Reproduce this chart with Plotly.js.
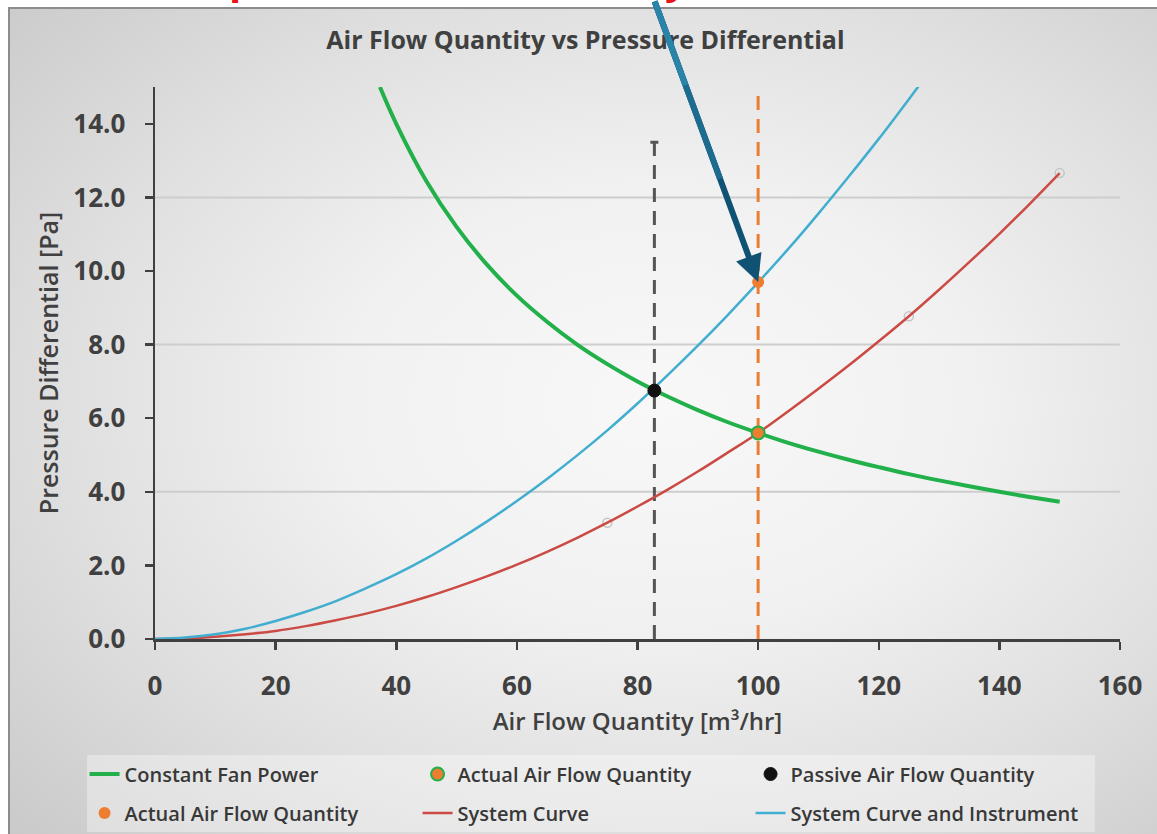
<!DOCTYPE html>
<html>
<head>
<meta charset="utf-8">
<script src="https://cdn.plot.ly/plotly-3.0.1.min.js"></script>
<style>
  html, body { margin: 0; padding: 0; width: 1157px; height: 834px; overflow: hidden; background: #ffffff; }
  #bg { position: absolute; left: 8px; top: 7px; width: 1200px; height: 900px;
        border-left: 2px solid #8c8c8c; border-top: 2px solid #8c8c8c;
        background: radial-gradient(ellipse 75% 70% at 54% 44%, #f8f8f8 0%, #f1f1f1 35%, #e0e0e0 65%, #c9c9c9 100%); }
  #chart { position: absolute; left: 0; top: 0; width: 1157px; height: 834px; }
</style>
</head>
<body>
<div id="bg"></div>
<div id="chart"></div>
<script>
// ---- data ----
const xFan = [37.3, 40, 45, 50, 55, 60, 65, 70, 75, 80, 85, 90, 95, 100, 105, 110, 115, 120, 125, 130, 135, 140, 145, 150];
const yFan = [15.0, 14.0, 12.44, 11.2, 10.18, 9.33, 8.62, 8.0, 7.47, 7.0, 6.59, 6.22, 5.89, 5.6, 5.33, 5.09, 4.87, 4.67, 4.48, 4.31, 4.15, 4.0, 3.86, 3.73];

const xSys = [0, 5, 10, 15, 20, 25, 30, 35, 40, 45, 50, 55, 60, 65, 70, 75, 80, 85, 90, 95, 100, 105, 110, 115, 120, 125, 130, 135, 140, 145, 150];
const ySys = [0, 0.01, 0.06, 0.13, 0.22, 0.35, 0.51, 0.69, 0.90, 1.14, 1.41, 1.70, 2.02, 2.37, 2.75, 3.16, 3.60, 4.06, 4.55, 5.07, 5.60, 6.19, 6.80, 7.43, 8.09, 8.77, 9.49, 10.24, 11.01, 11.82, 12.66];

const xInst = [0, 5, 10, 15, 20, 25, 30, 35, 40, 45, 50, 55, 60, 65, 70, 75, 80, 85, 90, 95, 100, 105, 110, 115, 120, 125, 130];
const yInst = [0, 0.04, 0.13, 0.28, 0.49, 0.74, 1.03, 1.38, 1.76, 2.19, 2.67, 3.19, 3.75, 4.35, 4.99, 5.67, 6.40, 7.17, 7.97, 8.81, 9.69, 10.60, 11.56, 12.56, 13.59, 14.67, 15.78];

const sysMarkX = [75, 125, 150];
const sysMarkY = [3.16, 8.77, 12.66];

const actualX = [100], actualY = [5.6];
const passiveX = [82.8], passiveY = [6.75];
const actual2X = [100], actual2Y = [9.7];

const passiveLineX = [82.8, 82.8], passiveLineY = [0, 13.5];
const actualLineX = [100, 100], actualLineY = [0, 15];

const gridY = [4, 8, 12];
const yTicks = [0, 2, 4, 6, 8, 10, 12, 14];
const xTicks = [0, 20, 40, 60, 80, 100, 120, 140, 160];

const titleText = "Air Flow Quantity vs Pressure Differential";
const xTitle = "Air Flow Quantity [m³/hr]";
const yTitle = "Pressure Differential [Pa]";

// ---- styles ----
const FONT = "Open Sans, Noto Sans, sans-serif";
const TXT = "#404040";
const GREEN = "#22b04b", RED = "#cc4a44", CYAN = "#41aecf", ORANGE = "#ed7d31";

const traces = [
  { x: passiveLineX, y: passiveLineY, mode: "lines", showlegend: false, hoverinfo: "skip",
    line: { color: "#555555", width: 3, dash: "14px,9px" } },
  { x: [passiveLineX[1]], y: [passiveLineY[1]], mode: "markers", showlegend: false, hoverinfo: "skip",
    marker: { size: 1, opacity: 0 },
    error_y: { type: "data", array: [0], arrayminus: [0], width: 4, thickness: 3, color: "#555555" } },
  { x: actualLineX, y: actualLineY, mode: "lines", showlegend: false, hoverinfo: "skip",
    line: { color: ORANGE, width: 3, dash: "14px,9px" } },
  { x: sysMarkX, y: sysMarkY, mode: "markers", showlegend: false, hoverinfo: "skip",
    marker: { symbol: "circle-open", size: 9, color: "#c4c4c4", line: { width: 1.5 } } },

  // legend row 1
  { name: "Constant Fan Power", x: xFan, y: yFan, mode: "lines", legend: "legend", legendrank: 1,
    line: { color: GREEN, width: 4, shape: "spline" } },
  { name: "Actual Air Flow Quantity", x: actualX, y: actualY, mode: "markers", legend: "legend", legendrank: 2,
    marker: { color: ORANGE, size: 13, line: { color: GREEN, width: 2 } } },
  { name: "Passive Air Flow Quantity", x: passiveX, y: passiveY, mode: "markers", legend: "legend", legendrank: 3,
    marker: { color: "#111111", size: 13, line: { color: "#111111", width: 1 } } },
  // legend row 2
  { name: "Actual Air Flow Quantity", x: actual2X, y: actual2Y, mode: "markers", legend: "legend2", legendrank: 1,
    marker: { color: ORANGE, size: 12 } },
  { name: "System Curve", x: xSys, y: ySys, mode: "lines", legend: "legend2", legendrank: 2,
    line: { color: RED, width: 2.5, shape: "spline" } },
  { name: "System Curve and Instrument", x: xInst, y: yInst, mode: "lines", legend: "legend2", legendrank: 3,
    line: { color: CYAN, width: 2.5, shape: "spline" } }
];

// draw markers above the curves
const order = [0, 1, 2, 3, 4, 8, 9, 5, 6, 7];
const data = order.map(i => traces[i]);

const legendCommon = {
  orientation: "h", xref: "paper", yref: "paper", xanchor: "left", yanchor: "middle",
  x: -0.073, entrywidth: 288, entrywidthmode: "pixels",
  bgcolor: "rgba(0,0,0,0)", borderwidth: 0,
  font: { family: FONT, size: 20, color: "#383838", weight: 600 },
  traceorder: "normal"
};

const shapes = gridY.map(v => ({
  type: "line", xref: "paper", x0: 0, x1: 1, yref: "y", y0: v, y1: v, layer: "below",
  line: { color: "#cdcdcd", width: 2 }
}));
shapes.push({
  type: "rect", xref: "paper", yref: "paper", x0: -0.0705, x1: 0.974, y0: -0.3496, y1: -0.2101,
  layer: "below", fillcolor: "rgba(255,255,255,0.35)", line: { width: 0 }
});

const annotations = [
  { x: 100, y: 9.7, xref: "x", yref: "y", ax: -104, ay: -295, axref: "pixel", ayref: "pixel",
    showarrow: true, arrowhead: 2, arrowsize: 0.9, arrowwidth: 6, arrowcolor: "#0f5274", standoff: 0, text: "" },
  { x: 100, y: 9.7, xref: "x", yref: "y", ax: -104, ay: -295, axref: "pixel", ayref: "pixel",
    showarrow: true, arrowhead: 0, arrowwidth: 6, arrowcolor: "#1d6b8f", standoff: 110, text: "" },
  { x: 100, y: 9.7, xref: "x", yref: "y", ax: -104, ay: -295, axref: "pixel", ayref: "pixel",
    showarrow: true, arrowhead: 0, arrowwidth: 6, arrowcolor: "#2a84a8", standoff: 210, text: "" },
  { text: "p", xref: "paper", yref: "paper", x: (241 - 155) / 965, y: (639 - 8) / 552,
    xanchor: "center", yanchor: "bottom", showarrow: false,
    font: { family: FONT, size: 40, color: "#e8141b", weight: 700 } },
  { text: "y", xref: "paper", yref: "paper", x: (676 - 155) / 965, y: (639 - 8) / 552,
    xanchor: "center", yanchor: "bottom", showarrow: false,
    font: { family: FONT, size: 40, color: "#e8141b", weight: 700 } }
];

const layout = {
  width: 1157, height: 834,
  margin: { l: 155, r: 37, t: 87, b: 195, pad: 0, autoexpand: false },
  paper_bgcolor: "rgba(0,0,0,0)", plot_bgcolor: "rgba(0,0,0,0)",
  font: { family: FONT, color: TXT },
  title: { text: titleText, xref: "container", yref: "container", x: 0.506, y: 0.952,
           xanchor: "center", yanchor: "middle",
           font: { family: FONT, size: 25, color: TXT, weight: 700 } },
  xaxis: {
    range: [0, 160], tickvals: xTicks, ticktext: xTicks.map(String),
    showgrid: false, zeroline: false, showline: true, linecolor: TXT, linewidth: 2.5,
    ticks: "outside", ticklen: 8, tickwidth: 2.5, tickcolor: TXT, ticklabelstandoff: 14,
    tickfont: { family: FONT, size: 26, color: TXT, weight: 700 },
    title: { text: xTitle, standoff: 12, font: { family: FONT, size: 24, color: TXT, weight: 600 } },
    fixedrange: true
  },
  yaxis: {
    range: [0, 15], tickvals: yTicks, ticktext: yTicks.map(v => v.toFixed(1)),
    showgrid: false, zeroline: false, showline: true, linecolor: TXT, linewidth: 2.5,
    ticks: "outside", ticklen: 8, tickwidth: 2.5, tickcolor: TXT, ticklabelstandoff: 14,
    tickfont: { family: FONT, size: 26, color: TXT, weight: 700 },
    title: { text: yTitle, standoff: 8, font: { family: FONT, size: 25, color: TXT, weight: 600 } },
    fixedrange: true
  },
  legend: Object.assign({}, legendCommon, { y: -0.2446 }),
  legend2: Object.assign({}, legendCommon, { y: -0.3152 }),
  shapes: shapes,
  annotations: annotations,
  showlegend: true
};

Plotly.newPlot("chart", data, layout, { displayModeBar: false, staticPlot: true });
</script>
</body>
</html>
